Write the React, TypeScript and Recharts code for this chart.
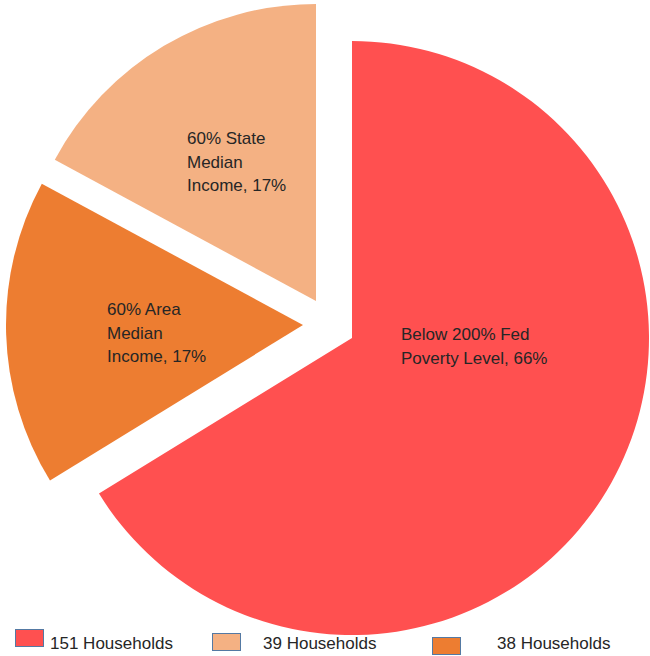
import { PieChart, Pie, Cell } from 'recharts';

// pie order, clockwise from 12 o'clock
const categories = ['Below 200% Fed Poverty Level', '60% Area Median Income', '60% State Median Income'];
const households = [151, 38, 39];
const labelLines = [
  ['Below 200% Fed', 'Poverty Level,'],
  ['60% Area', 'Median', 'Income,'],
  ['60% State', 'Median', 'Income,'],
];
const legendOrder = [0, 2, 1];

const colors = ['#FF5050', '#ED7D31', '#F4B183'];
// each slice is pulled out of the pie on its own
const sliceCenters = [
  { x: 352, y: 338 },
  { x: 303, y: 325 },
  { x: 316, y: 301 },
];
const labelOffsets = [
  { dx: 49, dy: 2 },
  { dx: -196, dy: -10 },
  { dx: -129, dy: -157 },
];
const legendItems = [
  { box: { left: 15, top: 629 }, text: 50 },
  { box: { left: 212, top: 633 }, text: 263 },
  { box: { left: 432, top: 637 }, text: 497 },
];

const data = categories.map((name, i) => ({ name, value: households[i] }));
const font = '"Liberation Sans", Arial, sans-serif';

function makeLabel(slice: number) {
  return (props: any) => {
    const { cx, cy, index, percent } = props;
    if (index !== slice) return null;
    const lines = [...labelLines[index]];
    lines[lines.length - 1] += ` ${Math.round(percent * 100)}%`;
    const x = cx + labelOffsets[index].dx;
    const y = cy + labelOffsets[index].dy;
    return (
      <text x={x} y={y} fill="#262626" fontSize={17} fontFamily={font} textAnchor="start">
        {lines.map((line, i) => (
          <tspan key={i} x={x} dy={i === 0 ? 0 : 23.5}>
            {line}
          </tspan>
        ))}
      </text>
    );
  };
}

export default function App() {
  return (
    <div style={{ position: 'absolute', left: 0, top: 0, width: 650, height: 656, background: '#fff' }}>
      <PieChart width={650} height={656} margin={{ top: 0, right: 0, bottom: 0, left: 0 }}>
        {sliceCenters.map((c, s) => (
          <Pie
            key={s}
            data={data}
            dataKey="value"
            cx={c.x}
            cy={c.y}
            outerRadius={297}
            startAngle={90}
            endAngle={-270}
            stroke="none"
            labelLine={false}
            label={makeLabel(s)}
            isAnimationActive={false}
          >
            {data.map((entry, i) => (
              <Cell key={entry.name} fill={i === s ? colors[i] : 'none'} stroke="none" />
            ))}
          </Pie>
        ))}
      </PieChart>
      {legendOrder.map((idx, k) => (
        <div key={idx}>
          <div
            style={{
              position: 'absolute',
              left: legendItems[k].box.left,
              top: legendItems[k].box.top,
              width: 27,
              height: 16,
              background: colors[idx],
              border: '1.5px solid #5479A3',
            }}
          />
          <div
            style={{
              position: 'absolute',
              left: legendItems[k].text,
              top: 634,
              fontFamily: font,
              fontSize: 17,
              color: '#262626',
              lineHeight: '20px',
              whiteSpace: 'nowrap',
            }}
          >
            {households[idx]} Households
          </div>
        </div>
      ))}
    </div>
  );
}
